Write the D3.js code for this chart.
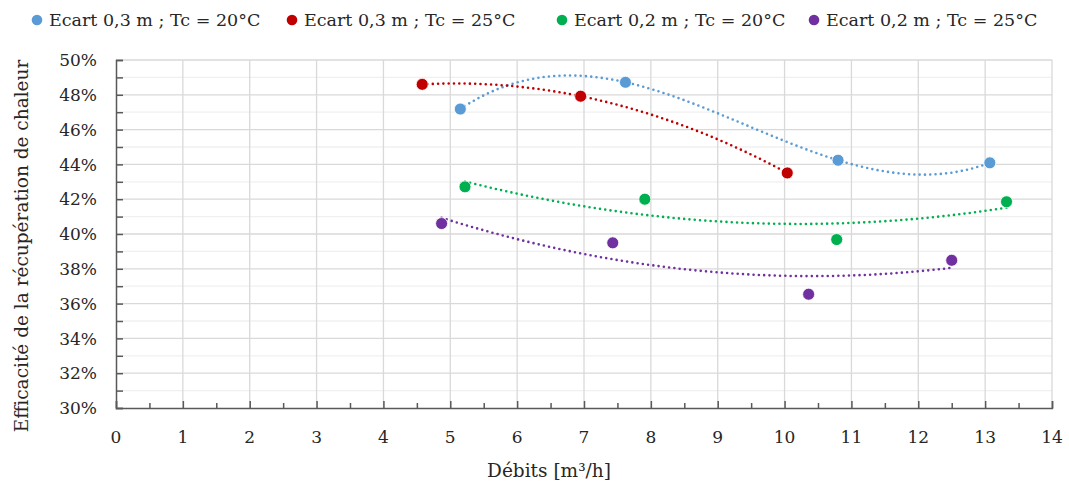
<!DOCTYPE html>
<html>
<head>
<meta charset="utf-8">
<script src="https://cdn.jsdelivr.net/npm/d3@7"></script>
<style>
  html, body { margin: 0; padding: 0; background: #fff; }
  svg { display: block; font-family: "DejaVu Serif", "Liberation Serif", serif; }
</style>
</head>
<body>
<svg id="chart" width="1069" height="487"></svg>
<script>
// ---------- Data ----------
const seriesNames = [
  "Ecart 0,3 m ; Tc = 20°C",
  "Ecart 0,3 m ; Tc = 25°C",
  "Ecart 0,2 m ; Tc = 20°C",
  "Ecart 0,2 m ; Tc = 25°C"
];
const seriesColors = ["#5b9bd5", "#c00000", "#00b050", "#7030a0"];
// Polynomial trendline order per series (Excel-like trendlines)
const trendOrders = [3, 2, 2, 2];

const debitsS1 = [5.15, 7.62, 10.80, 13.07];
const effS1    = [47.18, 48.72, 44.24, 44.09];

const debitsS2 = [4.58, 6.95, 10.04];
const effS2    = [48.60, 47.92, 43.51];

const debitsS3 = [5.22, 7.91, 10.78, 13.32];
const effS3    = [42.71, 42.00, 39.68, 41.85];

const debitsS4 = [4.87, 7.43, 10.36, 12.50];
const effS4    = [40.60, 39.49, 36.54, 38.49];

const xTicks = [0,1,2,3,4,5,6,7,8,9,10,11,12,13,14];
const yTicks = [30,32,34,36,38,40,42,44,46,48,50];

const xTitle = "Débits [m³/h]";
const yTitle = "Efficacité de la récupération de chaleur";

const seriesX = [debitsS1, debitsS2, debitsS3, debitsS4];
const seriesY = [effS1, effS2, effS3, effS4];

// ---------- Layout ----------
const svg = d3.select("#chart");
const margin = { left: 116, right: 17, top: 60, bottom: 79 };
const W = 1069, H = 487;
const x = d3.scaleLinear().domain([0, 14]).range([margin.left, W - margin.right]);
const y = d3.scaleLinear().domain([30, 50]).range([H - margin.bottom, margin.top]);

// ---------- Grid ----------
const grid = svg.append("g");
grid.selectAll("line.ymin").data(d3.range(31, 50, 2)).enter().append("line")
  .attr("x1", x(0)).attr("x2", x(14))
  .attr("y1", d => y(d)).attr("y2", d => y(d))
  .attr("stroke", "#f0f0f0").attr("stroke-width", 1.3);
grid.selectAll("line.ymaj").data(yTicks.slice(1)).enter().append("line")
  .attr("x1", x(0)).attr("x2", x(14))
  .attr("y1", d => y(d)).attr("y2", d => y(d))
  .attr("stroke", "#d9d9d9").attr("stroke-width", 1.3);
grid.selectAll("line.xmaj").data(xTicks.slice(1)).enter().append("line")
  .attr("y1", y(30)).attr("y2", y(50))
  .attr("x1", d => x(d)).attr("x2", d => x(d))
  .attr("stroke", "#d9d9d9").attr("stroke-width", 1.3);

// ---------- Axes ----------
const axisColor = "#595959";
const yAxis = svg.append("g").attr("transform", `translate(${x(0)},0)`)
  .call(d3.axisLeft(y).tickValues(d3.range(30, 51, 1)).tickSize(-7).tickFormat(""));
const xAxis = svg.append("g").attr("transform", `translate(0,${y(30)})`)
  .call(d3.axisBottom(x).tickValues(xTicks).tickSize(-7).tickFormat(""));
const xAxisMinor = svg.append("g").attr("transform", `translate(0,${y(30)})`)
  .call(d3.axisBottom(x).tickValues(d3.range(0.5, 14, 1)).tickSize(-5).tickFormat(""));
[yAxis, xAxis, xAxisMinor].forEach(g => {
  g.selectAll("path").attr("stroke", axisColor).attr("stroke-width", 1.5);
  g.selectAll("line").attr("stroke", axisColor).attr("stroke-width", 1.5);
});
xAxisMinor.select("path").remove();

// tick labels
svg.append("g").selectAll("text").data(yTicks).enter().append("text")
  .attr("x", 97).attr("y", d => y(d)).attr("dy", "0.36em")
  .attr("text-anchor", "end").attr("font-size", 17).attr("fill", "#262626")
  .text(d => d + "%");
svg.append("g").selectAll("text").data(xTicks).enter().append("text")
  .attr("x", d => x(d)).attr("y", 443)
  .attr("text-anchor", "middle").attr("font-size", 17).attr("fill", "#262626")
  .text(d => d);

// axis titles
svg.append("text").attr("x", 549).attr("y", 477).attr("text-anchor", "middle")
  .attr("font-size", 18.5).attr("fill", "#262626").text(xTitle);
svg.append("text").attr("transform", "translate(28,246) rotate(-90)")
  .attr("text-anchor", "middle").attr("font-size", 18.5).attr("fill", "#262626").text(yTitle);

// ---------- Trendlines ----------
function polyFit(xs, ys, order) {
  const n = order + 1;
  const A = Array.from({length: n}, () => new Array(n + 1).fill(0));
  for (let i = 0; i < xs.length; i++) {
    for (let r = 0; r < n; r++) {
      for (let c = 0; c < n; c++) A[r][c] += Math.pow(xs[i], r + c);
      A[r][n] += ys[i] * Math.pow(xs[i], r);
    }
  }
  for (let i = 0; i < n; i++) {
    let p = i;
    for (let k = i + 1; k < n; k++) if (Math.abs(A[k][i]) > Math.abs(A[p][i])) p = k;
    [A[i], A[p]] = [A[p], A[i]];
    for (let k = i + 1; k < n; k++) {
      const f = A[k][i] / A[i][i];
      for (let c = i; c <= n; c++) A[k][c] -= f * A[i][c];
    }
  }
  const coef = new Array(n).fill(0);
  for (let i = n - 1; i >= 0; i--) {
    let s = A[i][n];
    for (let c = i + 1; c < n; c++) s -= A[i][c] * coef[c];
    coef[i] = s / A[i][i];
  }
  return t => coef.reduce((acc, a, k) => acc + a * Math.pow(t, k), 0);
}

const line = d3.line().x(d => x(d[0])).y(d => y(d[1]));
const trendG = svg.append("g");
seriesX.forEach((xs, s) => {
  const f = polyFit(xs, seriesY[s], trendOrders[s]);
  const x0 = d3.min(xs), x1 = d3.max(xs);
  const pts = d3.range(0, 201).map(i => { const t = x0 + (x1 - x0) * i / 200; return [t, f(t)]; });
  trendG.append("path").attr("d", line(pts))
    .attr("fill", "none").attr("stroke", seriesColors[s])
    .attr("stroke-width", 2.6).attr("stroke-linecap", "round")
    .attr("stroke-dasharray", "0 5.3");
});

// ---------- Points ----------
const ptsG = svg.append("g");
seriesX.forEach((xs, s) => {
  ptsG.selectAll(null).data(xs.map((v, i) => [v, seriesY[s][i]])).enter().append("circle")
    .attr("cx", d => x(d[0])).attr("cy", d => y(d[1])).attr("r", 6)
    .attr("fill", seriesColors[s]).attr("stroke", "#fff").attr("stroke-width", 0.8);
});

// ---------- Legend ----------
const legendX = [37, 292, 562, 814];
const leg = svg.append("g");
seriesNames.forEach((name, s) => {
  leg.append("circle").attr("cx", legendX[s]).attr("cy", 20).attr("r", 5.3)
    .attr("fill", seriesColors[s]);
  leg.append("text").attr("x", legendX[s] + 12).attr("y", 26)
    .attr("font-size", 17.5).attr("fill", "#262626").text(name);
});
</script>
</body>
</html>
